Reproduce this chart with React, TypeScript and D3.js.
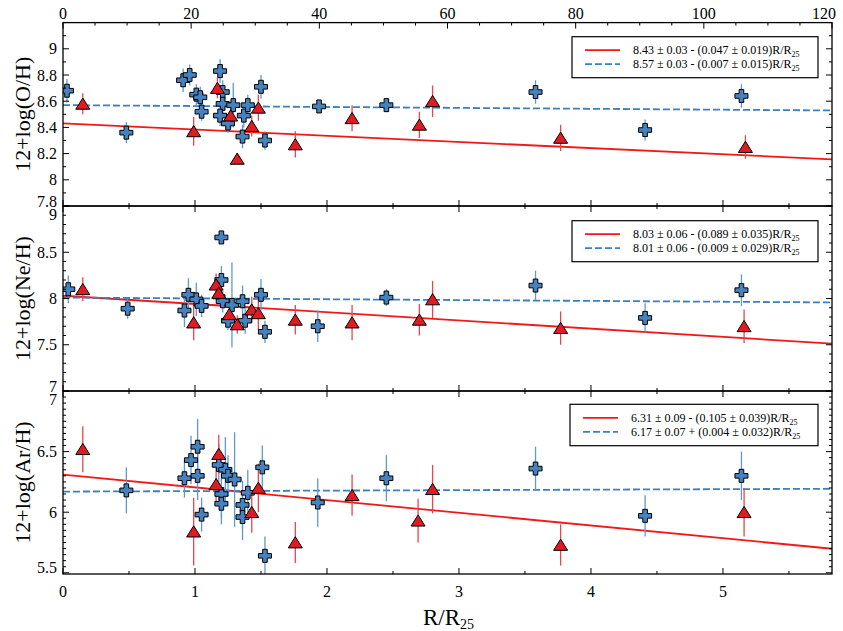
import React from 'react';
import * as d3 from 'd3';

// [R/R25, abundance, error]
type Pt = [number, number, number];

const W = 843;
const H = 631;
const plotLeft = 63;
const plotRight = 832;
const rMax = 5.826;
const arcsecMax = 120;

const rTicks = [0, 1, 2, 3, 4, 5];
const arcsecTicks = [0, 20, 40, 60, 80, 100, 120];

const ohTicks = [7.8, 8, 8.2, 8.4, 8.6, 8.8, 9];
const neTicks = [7, 7.5, 8, 8.5, 9];
const arTicks = [5.5, 6, 6.5, 7];

const ohBlue: Pt[] = [
    [0.03, 8.68, 0.09], [0.48, 8.36, 0.08], [0.91, 8.76, 0.09], [0.96, 8.8, 0.08],
    [1.01, 8.65, 0.08], [1.04, 8.63, 0.08], [1.05, 8.52, 0.07], [1.19, 8.83, 0.09],
    [1.21, 8.67, 0.09], [1.21, 8.58, 0.08], [1.19, 8.49, 0.08], [1.25, 8.43, 0.07],
    [1.29, 8.57, 0.17], [1.37, 8.49, 0.09], [1.4, 8.57, 0.08], [1.36, 8.33, 0.09],
    [1.5, 8.71, 0.09], [1.53, 8.3, 0.07], [1.94, 8.56, 0.05], [2.45, 8.57, 0.05],
    [3.58, 8.67, 0.09], [4.41, 8.38, 0.08], [5.14, 8.64, 0.09],
];
const ohRed: Pt[] = [
    [0.15, 8.58, 0.08], [0.99, 8.37, 0.11], [1.17, 8.7, 0.08], [1.27, 8.49, 0.1],
    [1.32, 8.16, 0.03], [1.43, 8.41, 0.08], [1.48, 8.55, 0.1], [1.76, 8.27, 0.1],
    [2.19, 8.47, 0.1], [2.7, 8.42, 0.1], [2.8, 8.6, 0.12], [3.77, 8.32, 0.1],
    [5.17, 8.25, 0.09],
];

const neBlue: Pt[] = [
    [0.04, 8.1, 0.15], [0.49, 7.89, 0.11], [0.92, 7.87, 0.18], [0.95, 8.04, 0.18],
    [1.01, 7.99, 0.18], [1.05, 7.92, 0.12], [1.2, 8.66, 0.05], [1.2, 8.2, 0.15],
    [1.21, 7.97, 0.12], [1.28, 7.93, 0.46], [1.25, 7.76, 0.1], [1.36, 7.97, 0.17],
    [1.38, 7.76, 0.14], [1.5, 8.04, 0.17], [1.53, 7.64, 0.12], [1.93, 7.7, 0.17],
    [2.45, 8.01, 0.09], [3.58, 8.14, 0.16], [4.41, 7.79, 0.16], [5.14, 8.09, 0.17],
];
const neRed: Pt[] = [
    [0.15, 8.1, 0.13], [0.99, 7.74, 0.19], [1.16, 8.15, 0.12], [1.18, 8.06, 0.12],
    [1.26, 7.83, 0.12], [1.32, 7.72, 0.1], [1.43, 7.88, 0.14], [1.48, 7.84, 0.18],
    [1.76, 7.77, 0.16], [2.19, 7.74, 0.19], [2.7, 7.77, 0.17], [2.8, 7.99, 0.2],
    [3.77, 7.68, 0.18], [5.16, 7.7, 0.18],
];

const arBlue: Pt[] = [
    [0.48, 6.18, 0.19], [0.92, 6.28, 0.16], [0.97, 6.43, 0.2], [1.02, 6.54, 0.23],
    [1.02, 6.3, 0.2], [1.05, 5.98, 0.14], [1.18, 6.39, 0.17], [1.23, 6.35, 0.27],
    [1.25, 6.3, 0.17], [1.3, 6.27, 0.39], [1.2, 6.15, 0.2], [1.2, 6.07, 0.17],
    [1.36, 6.06, 0.2], [1.36, 5.96, 0.19], [1.4, 6.16, 0.19], [1.51, 6.37, 0.18],
    [1.53, 5.64, 0.16], [1.93, 6.08, 0.2], [2.45, 6.28, 0.19], [3.58, 6.36, 0.18],
    [4.41, 5.97, 0.17], [5.14, 6.3, 0.2],
];
const arRed: Pt[] = [
    [0.15, 6.52, 0.19], [0.99, 5.84, 0.28], [1.18, 6.48, 0.16], [1.16, 6.23, 0.14],
    [1.43, 6.0, 0.17], [1.48, 6.2, 0.2], [1.76, 5.75, 0.17], [2.19, 6.14, 0.17],
    [2.69, 5.93, 0.18], [2.8, 6.19, 0.2], [3.77, 5.73, 0.17], [5.16, 6.0, 0.2],
];

// [intercept, slope]
const ohRedFit = [8.43, -0.047];
const ohBlueFit = [8.57, -0.007];
const neRedFit = [8.03, -0.089];
const neBlueFit = [8.01, -0.009];
const arRedFit = [6.31, -0.105];
const arBlueFit = [6.17, 0.004];

const ohLegend = ['8.43 ± 0.03 - (0.047 ± 0.019)R/R', '8.57 ± 0.03 - (0.007 ± 0.015)R/R'];
const neLegend = ['8.03 ± 0.06 - (0.089 ± 0.035)R/R', '8.01 ± 0.06 - (0.009 ± 0.029)R/R'];
const arLegend = ['6.31 ± 0.09 - (0.105 ± 0.039)R/R', '6.17 ± 0.07 + (0.004 ± 0.032)R/R'];

const font = '"Liberation Serif", "DejaVu Serif", serif';
const redFill = '#e01b22';
const redErr = '#e5474c';
const redLine = '#f21818';
const blueFill = '#4682bf';
const blueErr = '#5f98cf';
const blueLine = '#3d7fc0';

const panels = [
    { id: 'oh', label: '12+log(O/H)', top: 22.6, bottom: 206, domain: [7.8, 9.2], ticks: ohTicks, minor: 0.1,
      blue: ohBlue, red: ohRed, redFit: ohRedFit, blueFit: ohBlueFit, legend: ohLegend, legendBox: [572, 36.7, 818, 77.7] },
    { id: 'ne', label: '12+log(Ne/H)', top: 206, bottom: 391, domain: [7, 9], ticks: neTicks, minor: 0.1,
      blue: neBlue, red: neRed, redFit: neRedFit, blueFit: neBlueFit, legend: neLegend, legendBox: [572, 220.7, 818, 261.7] },
    { id: 'ar', label: '12+log(Ar/H)', top: 391, bottom: 574, domain: [5.49, 7.0], ticks: arTicks, minor: 0.05,
      blue: arBlue, red: arRed, redFit: arRedFit, blueFit: arBlueFit, legend: arLegend, legendBox: [570, 404.3, 818, 445.7] },
];

function stepValues(d0: number, d1: number, step: number) {
    const a = Math.ceil(d0 / step - 1e-6);
    const b = Math.floor(d1 / step + 1e-6);
    return d3.range(a, b + 1).map((i) => +(i * step).toFixed(4));
}

const plusPath = (a: number, t: number) =>
    `M${-t},${-a}L${t},${-a}L${t},${-t}L${a},${-t}L${a},${t}L${t},${t}L${t},${a}L${-t},${a}L${-t},${t}L${-a},${t}L${-a},${-t}L${-t},${-t}Z`;
const triPath = 'M0,-5.8L7,5.4L-7,5.4Z';

export default function App() {
    const x = d3.scaleLinear().domain([0, rMax]).range([plotLeft, plotRight]);
    const xTop = d3.scaleLinear().domain([0, arcsecMax]).range([plotLeft, plotRight]);
    const rMinor = stepValues(0, rMax, 0.5);
    const arcMinor = stepValues(0, arcsecMax, 5);

    return (
        <div style={{ position: 'absolute', left: 0, top: 0 }}>
            <svg width={W} height={H} style={{ display: 'block', background: '#fff' }} fontFamily={font}>
                <defs>
                    {panels.map((p) => (
                        <clipPath id={`clip-${p.id}`} key={p.id}>
                            <rect x={plotLeft} y={p.top} width={plotRight - plotLeft} height={p.bottom - p.top} />
                        </clipPath>
                    ))}
                </defs>
                {panels.map((p, pi) => {
                    const y = d3.scaleLinear().domain(p.domain).range([p.bottom, p.top]);
                    const fitPath = (f: number[]) =>
                        d3
                            .line<number>()
                            .x((r) => x(r))
                            .y((r) => y(f[0] + f[1] * r))([0, rMax]) || '';
                    const minorY = stepValues(p.domain[0], p.domain[1], p.minor);
                    const isMajorY = (v: number) => p.ticks.some((t) => Math.abs(t - v) < 1e-6);
                    const [lx0, ly0, lx1, ly1] = p.legendBox;
                    const isLast = pi === panels.length - 1;
                    const isFirst = pi === 0;
                    return (
                        <g key={p.id}>
                            <g clipPath={`url(#clip-${p.id})`}>
                                {/* fit lines */}
                                <path d={fitPath(p.redFit)} stroke={redLine} strokeWidth={1.8} fill="none" />
                                <path d={fitPath(p.blueFit)} stroke={blueLine} strokeWidth={1.8} fill="none" strokeDasharray="7,3" />
                                {/* error bars */}
                                {p.blue.map((d, i) => (
                                    <line key={'be' + i} x1={x(d[0])} x2={x(d[0])} y1={y(d[1] - d[2])} y2={y(d[1] + d[2])}
                                        stroke={blueErr} strokeWidth={1.3} />
                                ))}
                                {p.red.map((d, i) => (
                                    <line key={'re' + i} x1={x(d[0])} x2={x(d[0])} y1={y(d[1] - d[2])} y2={y(d[1] + d[2])}
                                        stroke={redErr} strokeWidth={1.3} />
                                ))}
                                {p.blue.map((d, i) => (
                                    <path key={'bm' + i} d={plusPath(6.5, 2.3)} transform={`translate(${x(d[0])},${y(d[1])})`}
                                        fill={blueFill} stroke="#000" strokeWidth={1} />
                                ))}
                                {p.red.map((d, i) => (
                                    <path key={'rm' + i} d={triPath} transform={`translate(${x(d[0])},${y(d[1])})`}
                                        fill={redFill} stroke="#000" strokeWidth={1} />
                                ))}
                            </g>

                            {/* y ticks, left and right */}
                            {minorY.map((v) => {
                                const len = isMajorY(v) ? 6 : 3;
                                const yy = y(v);
                                return (
                                    <g key={'yt' + v}>
                                        <line x1={plotLeft} x2={plotLeft + len} y1={yy} y2={yy} stroke="#000" strokeWidth={1} />
                                        <line x1={plotRight} x2={plotRight - len} y1={yy} y2={yy} stroke="#000" strokeWidth={1} />
                                    </g>
                                );
                            })}
                            {p.ticks.map((v) => {
                                // labels sitting on a panel edge are nudged inward
                                let shift = 0;
                                if (Math.abs(v - p.domain[1]) < 0.02) shift = 8;
                                if (Math.abs(v - p.domain[0]) < 0.02) shift = -5;
                                return (
                                    <text key={'yl' + v} x={plotLeft - 6} y={y(v) + shift} dy="0.35em" textAnchor="end" fontSize={16}>
                                        {String(v)}
                                    </text>
                                );
                            })}

                            {/* bottom edge ticks (R/R25) */}
                            {rMinor.map((r) => {
                                const len = Number.isInteger(r) ? 6 : 3;
                                return <line key={'xb' + r} x1={x(r)} x2={x(r)} y1={p.bottom} y2={p.bottom - len} stroke="#000" strokeWidth={1} />;
                            })}
                            {/* top edge ticks */}
                            {isFirst
                                ? arcMinor.map((a) => {
                                      const len = a % 20 === 0 ? 6 : 3;
                                      return <line key={'xt' + a} x1={xTop(a)} x2={xTop(a)} y1={p.top} y2={p.top + len} stroke="#000" strokeWidth={1} />;
                                  })
                                : rMinor.map((r) => {
                                      const len = Number.isInteger(r) ? 6 : 3;
                                      return <line key={'xt' + r} x1={x(r)} x2={x(r)} y1={p.top} y2={p.top + len} stroke="#000" strokeWidth={1} />;
                                  })}

                            <rect x={plotLeft} y={p.top} width={plotRight - plotLeft} height={p.bottom - p.top}
                                fill="none" stroke="#000" strokeWidth={1.3} />

                            <text transform={`translate(22,${(p.top + p.bottom) / 2}) rotate(-90)`} textAnchor="middle" dy="0.35em" fontSize={22}>
                                {p.label}
                            </text>

                            {/* legend */}
                            <rect x={lx0} y={ly0} width={lx1 - lx0} height={ly1 - ly0} fill="#fff" stroke="#000" strokeWidth={1.2} />
                            <line x1={lx0 + 13} x2={lx0 + 48} y1={ly0 + 13.5} y2={ly0 + 13.5} stroke={redLine} strokeWidth={1.8} />
                            <line x1={lx0 + 13} x2={lx0 + 48} y1={ly0 + 27.5} y2={ly0 + 27.5} stroke={blueLine} strokeWidth={1.8} strokeDasharray="7,3" />
                            {p.legend.map((t, i) => (
                                <text key={'lg' + i} x={lx0 + 61} y={ly0 + 13.5 + i * 14} dy="0.35em" fontSize={12}>
                                    {t}
                                    <tspan fontSize={8} dy={3}>25</tspan>
                                </text>
                            ))}

                            {isLast &&
                                rTicks.map((r) => (
                                    <text key={'xl' + r} x={x(r)} y={591} dy="0.35em" textAnchor="middle" fontSize={16}>
                                        {r}
                                    </text>
                                ))}
                            {isFirst &&
                                arcsecTicks.map((a) => (
                                    <text key={'al' + a} x={a === arcsecMax ? xTop(a) - 8 : xTop(a)} y={13} dy="0.35em" textAnchor="middle" fontSize={16}>
                                        {a}
                                    </text>
                                ))}
                        </g>
                    );
                })}
                <text x={423} y={625} fontSize={23}>
                    R/R<tspan fontSize={14} dy={4}>25</tspan>
                </text>
            </svg>
        </div>
    );
}
